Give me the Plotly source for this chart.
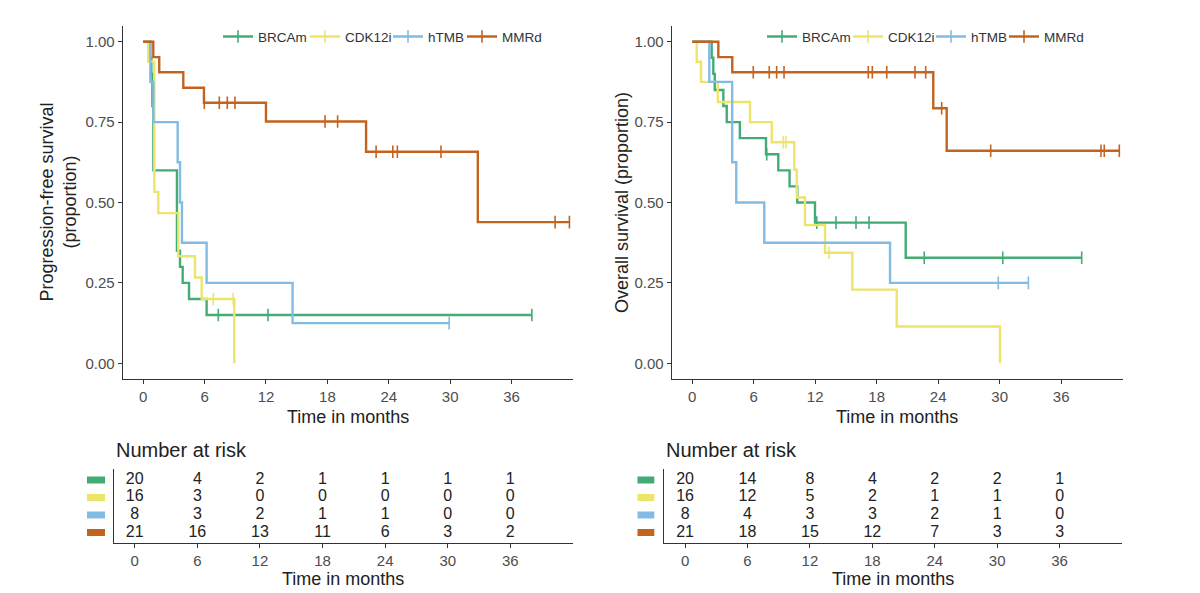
import plotly.graph_objects as go

W, H = 1200, 593
FONT = "Liberation Sans, Arial, sans-serif"

groups = ["BRCAm", "CDK12i", "hTMB", "MMRd"]
colors = ["#43AC76", "#ECE56A", "#82BCE4", "#C4631E"]

# ---------------- Progression-free survival (months, proportion) ----------------
pfs_brca_t = [0.7, 0.8, 0.9, 1.0, 3.3, 3.6, 3.86, 4.48, 6.2]
pfs_brca_s = [0.95, 0.9, 0.8, 0.6, 0.35, 0.30, 0.25, 0.20, 0.15]
pfs_brca_c = [7.34, 12.2, 37.98]

pfs_cdk_t = [0.5, 1.09, 1.48, 3.43, 5.06, 5.72, 8.9]
pfs_cdk_s = [0.9375, 0.533, 0.467, 0.333, 0.267, 0.2, 0.0]
pfs_cdk_c = [6.85, 8.8]

pfs_tmb_t = [0.7, 1.0, 3.37, 3.6, 3.79, 6.2, 14.6]
pfs_tmb_s = [0.875, 0.75, 0.625, 0.5, 0.375, 0.25, 0.125]
pfs_tmb_c = [29.9]

pfs_mmr_t = [0.99, 1.57, 3.92, 5.94, 12.0, 21.78, 32.7]
pfs_mmr_s = [0.952, 0.905, 0.857, 0.810, 0.752, 0.658, 0.439]
pfs_mmr_c = [5.97, 7.44, 8.22, 8.97, 17.77, 19.0, 22.76, 24.39, 24.84, 29.1, 40.25, 41.65]

# ---------------- Overall survival ----------------
os_brca_t = [1.9, 2.06, 2.2, 3.04, 3.37, 4.65, 7.2, 8.4, 9.5, 10.25, 11.98, 20.83]
os_brca_s = [0.95, 0.9, 0.85, 0.8, 0.75, 0.7, 0.65, 0.6, 0.55, 0.5, 0.4375, 0.328]
os_brca_c = [7.27, 12.15, 14.03, 15.98, 17.25, 22.64, 30.3, 38.0]

os_cdk_t = [0.44, 0.86, 2.5, 5.64, 7.76, 9.96, 10.2, 11.0, 12.96, 15.62, 19.95, 30.03]
os_cdk_s = [0.9375, 0.875, 0.8125, 0.75, 0.6875, 0.6016, 0.5156, 0.4297, 0.3438, 0.2292, 0.1146, 0.0]
os_cdk_c = [8.89, 9.15, 13.35]

os_tmb_t = [1.67, 3.9, 4.3, 7.03, 19.3]
os_tmb_s = [0.875, 0.625, 0.5, 0.375, 0.25]
os_tmb_c = [29.86, 32.8]

os_mmr_t = [2.55, 3.91, 23.52, 24.83]
os_mmr_s = [0.952, 0.905, 0.793, 0.661]
os_mmr_c = [5.96, 7.52, 8.24, 8.96, 17.18, 17.57, 18.98, 21.74, 22.78, 24.34, 29.12, 39.88, 40.2, 41.67]

# ---------------- Number at risk ----------------
risk_times = [0, 6, 12, 18, 24, 30, 36]
pfs_risk_brca = [20, 4, 2, 1, 1, 1, 1]
pfs_risk_cdk = [16, 3, 0, 0, 0, 0, 0]
pfs_risk_tmb = [8, 3, 2, 1, 1, 0, 0]
pfs_risk_mmr = [21, 16, 13, 11, 6, 3, 2]
os_risk_brca = [20, 14, 8, 4, 2, 2, 1]
os_risk_cdk = [16, 12, 5, 2, 1, 1, 0]
os_risk_tmb = [8, 4, 3, 3, 2, 1, 0]
os_risk_mmr = [21, 18, 15, 12, 7, 3, 3]

y_ticks = [0, 0.25, 0.5, 0.75, 1.0]
x_ticks = [0, 6, 12, 18, 24, 30, 36]

pfs = [(pfs_brca_t, pfs_brca_s, pfs_brca_c), (pfs_cdk_t, pfs_cdk_s, pfs_cdk_c),
       (pfs_tmb_t, pfs_tmb_s, pfs_tmb_c), (pfs_mmr_t, pfs_mmr_s, pfs_mmr_c)]
osv = [(os_brca_t, os_brca_s, os_brca_c), (os_cdk_t, os_cdk_s, os_cdk_c),
       (os_tmb_t, os_tmb_s, os_tmb_c), (os_mmr_t, os_mmr_s, os_mmr_c)]
pfs_risk = [pfs_risk_brca, pfs_risk_cdk, pfs_risk_tmb, pfs_risk_mmr]
os_risk = [os_risk_brca, os_risk_cdk, os_risk_tmb, os_risk_mmr]


def px(x):
    return x / W


def py(y):
    return 1 - y / H


def surv_at(times, surv, t):
    v = 1.0
    for ti, si in zip(times, surv):
        if ti <= t:
            v = si
    return v


fig = go.Figure()

for panel, data, xa, ya in [(0, pfs, "x", "y"), (1, osv, "x2", "y2")]:
    for gi, (t, s, c) in enumerate(data):
        end = max(t + c)
        xs = [0] + t + [end]
        ys = [1.0] + s + [s[-1]]
        fig.add_trace(go.Scatter(x=xs, y=ys, mode="lines", line=dict(color=colors[gi], width=2.4, shape="hv"),
                                 xaxis=xa, yaxis=ya, showlegend=False, hoverinfo="skip"))
        fig.add_trace(go.Scatter(x=c, y=[surv_at(t, s, ci) for ci in c], mode="markers",
                                 marker=dict(symbol="line-ns", size=9, line=dict(color=colors[gi], width=1.6)),
                                 xaxis=xa, yaxis=ya, showlegend=False, hoverinfo="skip"))

# legend proxies (one legend per entry so positions match)
leg_x = [[218, 305, 388, 462], [762, 848, 931, 1004]]
legend_layouts = {}
k = 0
for panel in range(2):
    for gi, g in enumerate(groups):
        k += 1
        name = "legend" if k == 1 else f"legend{k}"
        fig.add_trace(go.Scatter(x=[None], y=[None], mode="lines+markers", name=g,
                                 line=dict(color=colors[gi], width=2.4),
                                 marker=dict(symbol="line-ns", size=9, line=dict(color=colors[gi], width=1.6)),
                                 xaxis="x" if panel == 0 else "x2", yaxis="y" if panel == 0 else "y2",
                                 legend=name, showlegend=True))
        legend_layouts[name] = dict(x=px(leg_x[panel][gi]), y=py(36.7), xanchor="left", yanchor="middle",
                                    orientation="h", bgcolor="rgba(0,0,0,0)",
                                    font=dict(family=FONT, size=13.5, color="#333333"))

# risk tables
rows = [4, 3, 2, 1]
for xa, ya, risk in [("x3", "y3", pfs_risk), ("x4", "y4", os_risk)]:
    for gi in range(4):
        fig.add_trace(go.Scatter(x=risk_times, y=[rows[gi]] * len(risk_times), mode="text",
                                 text=[str(v) for v in risk[gi]],
                                 textfont=dict(family=FONT, size=16, color="#222222"),
                                 xaxis=xa, yaxis=ya, showlegend=False, hoverinfo="skip"))

axis_common = dict(showgrid=False, zeroline=False, showline=True, linecolor="#333333", linewidth=1.1,
                   ticks="outside", ticklen=4, tickcolor="#333333", tickwidth=1.1,
                   tickfont=dict(family=FONT, size=15, color="#4D4D4D"))

main_y = [py(379.4), py(25.6)]
table_y = [py(542.5), py(468.6)]

layout = dict(
    width=W, height=H, margin=dict(l=0, r=0, t=0, b=0),
    paper_bgcolor="white", plot_bgcolor="white",
    font=dict(family=FONT),
    xaxis=dict(domain=[px(122.7), px(573)], anchor="y", range=[-2, 42], tickvals=x_ticks, **axis_common),
    yaxis=dict(domain=main_y, anchor="x", range=[-0.05, 1.05], tickvals=y_ticks, tickformat=".2f", **axis_common),
    xaxis2=dict(domain=[px(671.7), px(1122.7)], anchor="y2", range=[-2, 42], tickvals=x_ticks, **axis_common),
    yaxis2=dict(domain=main_y, anchor="x2", range=[-0.05, 1.05], tickvals=y_ticks, tickformat=".2f", **axis_common),
    xaxis3=dict(domain=[px(113.9), px(572.9)], anchor="y3", range=[-2, 42], tickvals=x_ticks, **axis_common),
    yaxis3=dict(domain=table_y, anchor="x3", range=[0.43, 4.65], showgrid=False, zeroline=False, showline=True,
                linecolor="#333333", linewidth=1.1, showticklabels=False, ticks=""),
    xaxis4=dict(domain=[px(664.3), px(1122)], anchor="y4", range=[-2, 42], tickvals=x_ticks, **axis_common),
    yaxis4=dict(domain=table_y, anchor="x4", range=[0.43, 4.65], showgrid=False, zeroline=False, showline=True,
                linecolor="#333333", linewidth=1.1, showticklabels=False, ticks=""),
)
layout.update(legend_layouts)
fig.update_layout(**layout)

ann = []
title_font = dict(family=FONT, size=18, color="#222222")
ann.append(dict(text="Progression-free survival<br>(proportion)", x=px(58), y=py(202.5), xref="paper", yref="paper",
                textangle=-90, showarrow=False, font=title_font, xanchor="center", yanchor="middle"))
ann.append(dict(text="Overall survival (proportion)", x=px(621.5), y=py(202.5), xref="paper", yref="paper",
                textangle=-90, showarrow=False, font=title_font, xanchor="center", yanchor="middle"))
for cx in [347.9, 897.2]:
    ann.append(dict(text="Time in months", x=px(cx), y=py(417), xref="paper", yref="paper", showarrow=False,
                    font=title_font, xanchor="center", yanchor="middle"))
for cx in [343.4, 893.2]:
    ann.append(dict(text="Time in months", x=px(cx), y=py(578.5), xref="paper", yref="paper", showarrow=False,
                    font=title_font, xanchor="center", yanchor="middle"))
for lx in [114, 663.6]:
    ann.append(dict(text="Number at risk", x=px(lx), y=py(449.6), xref="paper", yref="paper", showarrow=False,
                    font=dict(family=FONT, size=20, color="#222222"), xanchor="left", yanchor="middle"))
fig.update_layout(annotations=ann)

shapes = []
for (bx0, bx1, yref) in [(87, 105, "y3"), (637.5, 654.3, "y4")]:
    for gi in range(4):
        shapes.append(dict(type="rect", xref="paper", yref=yref, x0=px(bx0), x1=px(bx1),
                           y0=rows[gi] - 0.2, y1=rows[gi] + 0.2, fillcolor=colors[gi], line=dict(width=0)))
fig.update_layout(shapes=shapes)

fig.write_html("out.html")
